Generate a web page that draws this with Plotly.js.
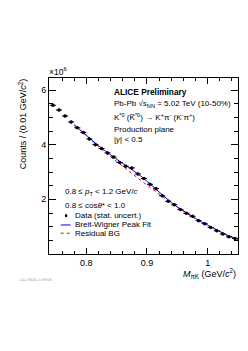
<!DOCTYPE html>
<html><head><meta charset="utf-8">
<script src="https://cdn.plot.ly/plotly-3.0.1.min.js"></script>
<style>html,body{margin:0;padding:0;background:#fff}#c{width:248px;height:351px}</style>
</head><body><div id="c"></div>
<script>
// Data (counts in units of 1e6 per 0.01 GeV/c^2)
const massBins = [0.745,0.755,0.765,0.775,0.785,0.795,0.805,0.815,0.825,0.835,0.845,0.855,0.865,0.875,0.885,0.895,0.905,0.915,0.925,0.935,0.945,0.955,0.965,0.975,0.985,0.995,1.005,1.015,1.025,1.035,1.045];
const counts = [5.44,5.27,5.05,4.83,4.62,4.45,4.21,4.00,3.86,3.70,3.55,3.35,3.21,3.15,2.93,2.76,2.55,2.39,2.13,1.93,1.80,1.63,1.49,1.38,1.22,1.11,0.97,0.85,0.73,0.63,0.57];
const countErr = [0.05,0.05,0.05,0.05,0.05,0.05,0.05,0.05,0.05,0.05,0.05,0.05,0.05,0.05,0.05,0.05,0.05,0.05,0.05,0.05,0.05,0.05,0.05,0.05,0.05,0.05,0.05,0.05,0.05,0.05,0.05];
const binHalfWidth = 0.005;
const fitMass = [0.78,0.79,0.80,0.81,0.82,0.83,0.84,0.85,0.86,0.87,0.88,0.89,0.90,0.91,0.92,0.93,0.94,0.95,0.96,0.97,0.98,0.99,1.00,1.01,1.02,1.03,1.04,1.05];
const bwFit = [4.73,4.53,4.34,4.15,3.96,3.79,3.62,3.46,3.31,3.17,3.02,2.85,2.66,2.46,2.26,2.06,1.88,1.72,1.57,1.43,1.30,1.17,1.05,0.93,0.82,0.71,0.62,0.54];
const residualBG = [4.72,4.52,4.32,4.12,3.93,3.74,3.56,3.38,3.20,3.03,2.86,2.69,2.52,2.35,2.19,2.03,1.87,1.71,1.56,1.42,1.29,1.16,1.04,0.92,0.81,0.71,0.62,0.54];
const yTicks = [2,4,6];
const xTicks = [0.8,0.9,1.0];
const xTickLabels = ['0.8','0.9','1'];

const F = 'Liberation Sans, Arial, sans-serif';
const traces = [
  {x: fitMass, y: residualBG, mode:'lines', line:{color:'#ff0000', width:1, dash:'dot'}, showlegend:false, hoverinfo:'skip'},
  {x: fitMass, y: bwFit, mode:'lines', line:{color:'#0000ff', width:1}, showlegend:false, hoverinfo:'skip'},
  {x: massBins, y: counts, mode:'markers', marker:{color:'#000', size:3.5},
   error_x:{type:'constant', value:binHalfWidth, width:0, color:'#000', thickness:1},
   error_y:{type:'data', array:countErr, width:0, color:'#000', thickness:1}, showlegend:false}
];

const ann = (x,y,text,opts={}) => Object.assign({xref:'paper', yref:'paper', x, y, text, showarrow:false, xanchor:'left', yanchor:'middle', font:{family:F, size:8, color:'#000'}}, opts);

const annotations = [
  ann(-0.01, 1.036, '×10<sup>6</sup>', {font:{family:F, size:8.5}}),
  ann(0.335, 0.922, '<b>ALICE Preliminary</b>', {font:{family:F, size:8.3}}),
  ann(0.335, 0.852, 'Pb-Pb √<i>s</i><sub>NN</sub> = 5.02 TeV (10-50%)'),
  ann(0.335, 0.778, 'K<sup>*0</sup> (K̅<sup>*0</sup>) → K<sup>+</sup>π<sup>-</sup> (K<sup>-</sup>π<sup>+</sup>)'),
  ann(0.335, 0.710, 'Production plane'),
  ann(0.335, 0.648, '|<i>y</i>| < 0.5'),
  ann(0.072, 0.351, '0.8 ≤ <i>p</i><sub>T</sub> < 1.2 GeV/<i>c</i>'),
  ann(0.072, 0.278, '0.8 ≤ cos<i>θ</i>* < 1.0'),
  ann(0.125, 0.218, 'Data (stat. uncert.)'),
  ann(0.125, 0.165, 'Breit-Wigner Peak Fit'),
  ann(0.125, 0.118, 'Residual BG'),
  ann(-0.138, 1.012, 'Counts / (0.01 GeV/<i>c</i><sup>2</sup>)', {textangle:-90, xanchor:'center', yanchor:'top', font:{family:F, size:9}}),
  ann(1.0, -0.108, '<i>M</i><sub>πK</sub> (GeV/<i>c</i><sup>2</sup>)', {xanchor:'right', font:{family:F, size:9}}),
  ann(-0.17, -0.148, 'ALI-PREL-156826', {font:{family:'DejaVu Serif, serif', size:3.5, color:'#999'}})
];

const shapes = [
  {type:'circle', xref:'paper', yref:'paper', x0:0.084, x1:0.097, y0:0.209, y1:0.227, fillcolor:'#000', line:{width:0}},
  {type:'line', xref:'paper', yref:'paper', x0:0.062, x1:0.114, y0:0.165, y1:0.165, line:{color:'#0000ff', width:1}},
  {type:'line', xref:'paper', yref:'paper', x0:0.062, x1:0.114, y0:0.118, y1:0.118, line:{color:'#ff0000', width:1, dash:'dot'}}
];

const layout = {
  width:248, height:351,
  margin:{l:49, r:10, t:78, b:97},
  paper_bgcolor:'#fff', plot_bgcolor:'#fff',
  showlegend:false,
  font:{family:F, size:9, color:'#000'},
  xaxis:{range:[0.7385,1.05], tickvals:xTicks, ticktext:xTickLabels, ticks:'inside', ticklen:6, tickcolor:'#000',
    showline:true, linecolor:'#000', linewidth:1, mirror:'allticks', showgrid:false, zeroline:false,
    tickfont:{family:F, size:9},
    minor:{dtick:0.02, tick0:0.8, ticks:'inside', ticklen:3, tickcolor:'#000', showgrid:false}},
  yaxis:{range:[0,6.44], tickvals:yTicks, ticks:'inside', ticklen:7, tickcolor:'#000',
    showline:true, linecolor:'#000', linewidth:1, mirror:'allticks', showgrid:false, zeroline:false,
    tickfont:{family:F, size:9},
    minor:{dtick:0.5, tick0:0, ticks:'inside', ticklen:4, tickcolor:'#000', showgrid:false}},
  annotations, shapes
};
Plotly.newPlot('c', traces, layout, {staticPlot:true, displayModeBar:false});
</script></body></html>
